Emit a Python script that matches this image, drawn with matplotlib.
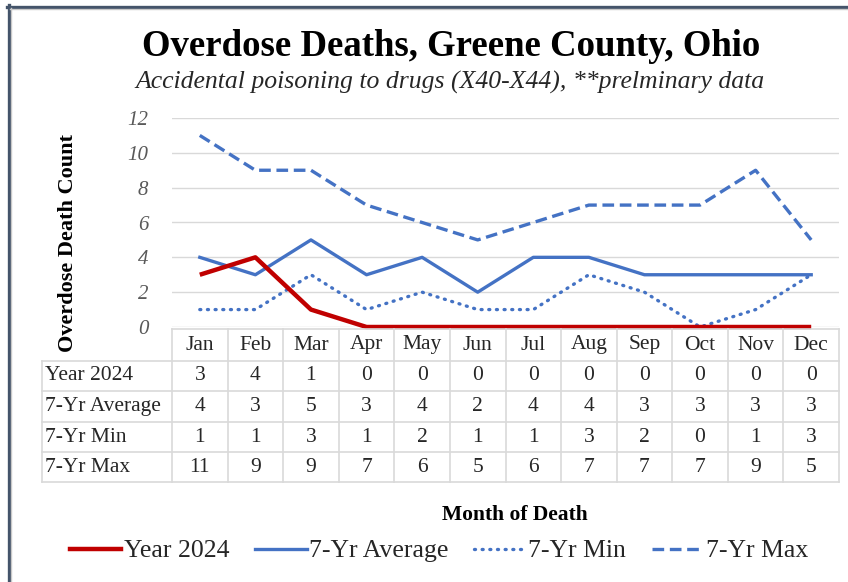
import matplotlib
matplotlib.use("Agg")
import matplotlib.pyplot as plt
from matplotlib.lines import Line2D
from matplotlib.transforms import blended_transform_factory

months = ["Jan", "Feb", "Mar", "Apr", "May", "Jun", "Jul", "Aug", "Sep", "Oct", "Nov", "Dec"]
year_2024 = [3, 4, 1, 0, 0, 0, 0, 0, 0, 0, 0, 0]
avg_7yr = [4, 3, 5, 3, 4, 2, 4, 4, 3, 3, 3, 3]
min_7yr = [1, 1, 3, 1, 2, 1, 1, 3, 2, 0, 1, 3]
max_7yr = [11, 9, 9, 7, 6, 5, 6, 7, 7, 7, 9, 5]
series_names = ["Year 2024", "7-Yr Average", "7-Yr Min", "7-Yr Max"]
yticks = [0, 2, 4, 6, 8, 10, 12]

W, H = 848, 582
fig = plt.figure(figsize=(W / 100, H / 100), dpi=100)
SERIF = ["Liberation Serif", "DejaVu Serif"]

def fx(px):
    return px / W

def fy(py):
    return 1 - py / H

# axes placement
x0, x1 = 172, 839
y_top, y_bot = 118, 327
ax = fig.add_axes([fx(x0), fy(y_bot), fx(x1) - fx(x0), fy(y_top) - fy(y_bot)])
ax.set_xlim(-0.5, 11.5)
ax.set_ylim(0, 12)
for s in ax.spines.values():
    s.set_visible(False)
ax.set_xticks([])
ax.set_yticks(yticks)
ax.set_yticklabels([str(v) for v in yticks], fontfamily=SERIF, fontstyle="italic",
                   fontsize=15, color="#595959")
ax.tick_params(axis="y", length=0, pad=17)
ax.grid(axis="y", color="#d9d9d9", linewidth=1.0)
ax.set_axisbelow(True)

xs = list(range(len(months)))
c_red = "#c00000"
c_blue = "#4472c4"

dot_style = (0, (0.3, 2.0))
dash_style = (0, (3.5, 1.7))
ax.plot(xs, min_7yr, color=c_blue, linewidth=2.4, linestyle=dot_style,
        dash_capstyle="round", clip_on=False)
ax.plot(xs, max_7yr, color=c_blue, linewidth=2.4, linestyle=dash_style, clip_on=False)
ax.plot(xs, avg_7yr, color=c_blue, linewidth=2.4, clip_on=False)
ax.plot(xs, year_2024, color=c_red, linewidth=3.2, clip_on=False, solid_capstyle="butt")

# data table
tr = blended_transform_factory(ax.transData, fig.transFigure)
grid_c = "#d9d9d9"
row_edges = [329, 361, 391, 422, 452, 482]
label_x0 = 42
fig.add_artist(Line2D([-0.5, 11.5], [fy(row_edges[0])] * 2, transform=tr, color=grid_c, lw=1.2))
for ry in row_edges[1:]:
    fig.add_artist(Line2D([fx(label_x0), fx(x1)], [fy(ry)] * 2, color=grid_c, lw=1.2))
for i in range(len(months) + 1):
    fig.add_artist(Line2D([i - 0.5, i - 0.5], [fy(row_edges[0]), fy(row_edges[-1])],
                          transform=tr, color=grid_c, lw=1.2))
fig.add_artist(Line2D([fx(label_x0)] * 2, [fy(row_edges[1]), fy(row_edges[-1])], color=grid_c, lw=1.2))

tfs = 15.5
hdr_y = (row_edges[0] + row_edges[1]) / 2
for i, m in enumerate(months):
    fig.text(i, fy(hdr_y), m, transform=tr, ha="center", va="center",
             fontfamily=SERIF, fontsize=tfs, color="#262626")
rows = [year_2024, avg_7yr, min_7yr, max_7yr]
for r, (name, vals) in enumerate(zip(series_names, rows)):
    cy = (row_edges[r + 1] + row_edges[r + 2]) / 2
    fig.text(fx(label_x0 + 3), fy(cy), name, ha="left", va="center",
             fontfamily=SERIF, fontsize=tfs, color="#262626")
    for i, v in enumerate(vals):
        fig.text(i, fy(cy), str(v), transform=tr, ha="center", va="center",
                 fontfamily=SERIF, fontsize=tfs, color="#262626")

# titles
fig.text(fx(451), fy(46), "Overdose Deaths, Greene County, Ohio", ha="center", va="center",
         fontfamily=SERIF, fontweight="bold", fontsize=26.5, color="black")
fig.text(fx(450), fy(82), "Accidental poisoning to drugs (X40-X44), **prelminary data",
         ha="center", va="center", fontfamily=SERIF, fontstyle="italic", fontsize=18.5, color="#262626")
fig.text(fx(68), fy(243), "Overdose Death Count", rotation=90, ha="center", va="center",
         fontfamily=SERIF, fontweight="bold", fontsize=16, color="black")
fig.text(fx(515), fy(515), "Month of Death", ha="center", va="center",
         fontfamily=SERIF, fontweight="bold", fontsize=15.5, color="black")

# legend
handles = [
    Line2D([], [], color=c_red, lw=3.2),
    Line2D([], [], color=c_blue, lw=2.4),
    Line2D([], [], color=c_blue, lw=2.4, linestyle=dot_style, dash_capstyle="round"),
    Line2D([], [], color=c_blue, lw=2.4, linestyle=dash_style),
]
leg = fig.legend(handles, series_names, loc="center", bbox_to_anchor=(fx(439), fy(551)),
                 ncol=4, frameon=False, handlelength=2.0, handletextpad=0.1, columnspacing=1.0,
                 prop={"family": SERIF, "size": 18.5})
for t in leg.get_texts():
    t.set_color("#262626")

# border
fig.add_artist(Line2D([fx(7), fx(W)], [fy(6.5)] * 2, color="#44546a", lw=2.4))
fig.add_artist(Line2D([fx(8.5)] * 2, [fy(5), fy(H)], color="#44546a", lw=2.4))
fig.add_artist(Line2D([fx(11)] * 2, [fy(8), fy(H)], color="#c8c8c8", lw=1.0))
fig.add_artist(Line2D([fx(10), fx(W)], [fy(9)] * 2, color="#c8c8c8", lw=1.0))

fig.savefig("out.png", dpi=100)
